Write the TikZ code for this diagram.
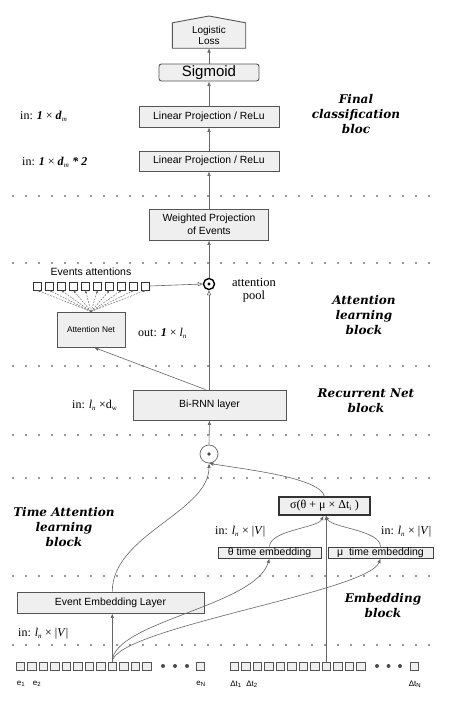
\documentclass[tikz,border=0pt]{standalone}
\usepackage{fontspec}
\setmainfont{Liberation Serif}
\newfontfamily\sansf{Liberation Sans}
\newfontfamily\blockf{DejaVu Serif}
\usetikzlibrary{arrows.meta}
\definecolor{ln}{HTML}{666666}
\definecolor{bx}{HTML}{EFEFEF}
\definecolor{bd}{HTML}{555555}
\begin{document}
\begin{tikzpicture}[x=1pt,y=-1pt,
  box/.style={draw=bd, fill=bx, line width=0.9pt, inner sep=0pt, align=center,
    font=\sansf\fontsize{10.4}{12.5}\selectfont},
  tbox/.style={box, draw=black!80, line width=1.2pt},
  arr/.style={draw=ln, line width=0.6pt, -{Latex[length=4.5pt,width=3.6pt]}},
  oarr/.style={draw=ln, line width=0.6pt, -{Triangle[open,length=5pt,width=4.2pt]}},
  dashar/.style={draw=ln, line width=0.45pt, dash pattern=on 1.8pt off 1.2pt, -{Latex[length=2.5pt,width=2.2pt]}},
  dotline/.style={draw=black!80, line width=1.8pt, dash pattern=on 0pt off 13pt, line cap=round},
  blk/.style={font=\blockf\bfseries\itshape\fontsize{12}{15}\selectfont, align=center},
  lbl/.style={font=\fontsize{12}{14}\selectfont, anchor=west, inner sep=0pt},
  sq/.style={draw=bd, fill=bx, line width=0.5pt, minimum size=8.5pt, inner sep=0pt},
  asq/.style={draw=black!80, fill=white, line width=0.8pt, minimum size=8pt, inner sep=0pt},
  bigdot/.style={circle, fill=black!70, inner sep=0pt, minimum size=4pt},
  sml/.style={font=\sansf\fontsize{8}{9}\selectfont, inner sep=0pt}
]
\path[use as bounding box, fill=white] (0,0) rectangle (450,702);

% dotted separators
\foreach \yy in {196,263,366,435,478,576,645}
  \draw[dotline] (13,\yy) -- (440,\yy);

% final classification
\node[minimum width=73pt, minimum height=25pt, inner sep=0pt] (loss) at (209,35.5) {};
\draw[draw=bd, fill=bx, line width=0.9pt] (loss.south west) -- (loss.north west) -- (209,16) -- (loss.north east) -- (loss.south east) -- cycle;
\node[align=center, font=\sansf\fontsize{10}{11.5}\selectfont] (losst) at (209,35.5) {Logistic\\Loss};
\node[box, rounded corners=2.5pt, minimum width=100pt, minimum height=17pt, font=\sansf\fontsize{15}{16}\selectfont] (sig) at (209,72.5) {Sigmoid};
\node[box, minimum width=140pt, minimum height=21pt] (lp1) at (209,116.5) {Linear Projection / ReLu};
\node[box, minimum width=140pt, minimum height=20pt] (lp2) at (209,161) {Linear Projection / ReLu};
\draw[arr] (sig.north) -- (loss.south);
\draw[arr] (lp1.north) -- (sig.south);
\draw[arr] (lp2.north) -- (lp1.south);

\node[lbl] (inA) at (20,116) {in: \textbf{\textit{1}} × \textbf{\textit{d}}\textsubscript{\scriptsize\textit{m}}};
\node[lbl] (inB) at (22,162) {in: \textbf{\textit{1}} × \textbf{\textit{d}}\textsubscript{\scriptsize\textit{m}} \textbf{\textit{* 2}}};
\node[blk] (fcb) at (356,114) {Final\\classification\\bloc};

% weighted projection
\node[box, minimum width=119pt, minimum height=31pt] (wp) at (209,224.5) {Weighted Projection\\of Events};
\draw[arr] (wp.north) -- (lp2.south);

% attention block
\node[font=\sansf\fontsize{10.5}{12}\selectfont] (evat) at (91,272) {Events attentions};
\foreach \i in {0,...,9}
  \node[asq] (a\i) at (37.5+12*\i,286) {};
\node[circle, draw=black, line width=1.4pt, minimum size=11pt, inner sep=0pt] (odA) at (209,284) {};
\fill[black] (odA.center) circle (1.6pt);
\node[align=center, font=\fontsize{12.5}{13}\selectfont] (apool) at (254,290) {attention\\pool};
\node[box, minimum width=68pt, minimum height=35pt, font=\sansf\fontsize{8.3}{10}\selectfont] (attnet) at (91,329.5) {Attention Net};
\node[lbl] (outl) at (138,333) {out: \textbf{\textit{1}} × \textit{l}\textsubscript{\scriptsize\textit{n}}};
\node[blk] (alb) at (364,315) {Attention\\learning\\block};
\foreach \i in {0,...,9}
  \draw[dashar] (attnet.north) -- (a\i.south);
\draw[oarr] (a9.east) -- (odA.west);
\draw[arr] (odA.north) -- (wp.south);

% recurrent
\node[box, minimum width=153pt, minimum height=30pt] (birnn) at (209.5,405) {Bi-RNN layer};
\draw[oarr] (birnn.north -| odA) -- (odA.south);
\draw[arr] ([xshift=-4pt]birnn.north) -- ([xshift=3pt]attnet.south);
\node[lbl] (inC) at (72,405) {in: \textit{l}\textsubscript{\scriptsize\textit{n}} ×d\textsubscript{\scriptsize w}};
\node[blk] (rnb) at (366,400.5) {Recurrent Net\\block};

\node[circle, draw=ln, line width=0.7pt, minimum size=18pt, inner sep=0pt] (odB) at (209,454) {};
\fill[black!70] (odB.center) circle (1.8pt);
\draw[arr] (odB.north) -- (birnn.south);

% time attention
\node[tbox, minimum width=91pt, minimum height=18pt, font=\fontsize{12}{13}\selectfont] (sigma) at (324.5,506) {σ(θ + μ × Δt\textsubscript{\scriptsize i} )};
\node[tbox, draw=black!75, line width=1pt, minimum width=103pt, minimum height=11pt, text height=7.5pt, text depth=1.5pt, font=\sansf\fontsize{10.5}{11}\selectfont] (theta) at (269.5,552.5) {θ time embedding};
\node[tbox, draw=black!75, line width=1pt, minimum width=105pt, minimum height=11pt, text height=7.5pt, text depth=1.5pt, font=\sansf\fontsize{10.5}{11}\selectfont] (mu) at (380.5,552.5) {μ~~time embedding};
\node[lbl] (inD) at (215,532) {in: \textit{l}\textsubscript{\scriptsize\textit{n}} × |\textit{V}|};
\node[lbl] (inE) at (381,532) {in: \textit{l}\textsubscript{\scriptsize\textit{n}} × |\textit{V}|};
\node[blk] (tab) at (64,527) {Time Attention\\learning\\block};

% embedding
\node[box, minimum width=187pt, minimum height=21pt] (eel) at (110.5,602.5) {Event Embedding Layer};
\node[lbl] (inF) at (18,634) {in: \textit{l}\textsubscript{\scriptsize\textit{n}} × |\textit{V}|};
\node[blk] (emb) at (383,606) {Embedding\\block};

% input squares
\foreach \i in {0,...,11}
  \node[sq] (e\i) at (20.3+11.5*\i,666) {};
\node[sq] (eN) at (200,666) {};
\foreach \i in {0,...,11}
  \node[sq] (t\i) at (234.3+11.5*\i,666) {};
\node[sq] (tN) at (414,666) {};
\foreach \xx/\nm in {163/da,175/db,187/dc,377/dd,388.5/de,400/df}
  \node[bigdot] (\nm) at (\xx,666) {};
\node[sml] (le1) at (21,684) {e\textsubscript{1}};
\node[sml] (le2) at (37,684) {e\textsubscript{2}};
\node[sml] (leN) at (201,684) {e\textsubscript{N}};
\node[sml] (lt1) at (236,684) {Δt\textsubscript{1}};
\node[sml] (lt2) at (252,684) {Δt\textsubscript{2}};
\node[sml] (ltN) at (415,684) {Δt\textsubscript{N}};

% connectors
\draw[arr] (e8.north) -- (eel.south -| e8);
\draw[arr] (e8.north) .. controls (113,622) and (255,606) .. (theta.south);
\draw[arr] (e8.north) .. controls (116,628) and (368,592) .. (mu.south);
\draw[arr] (t8.north) -- (sigma.south -| t8);
\draw[arr] (theta.north) .. controls (270,530) and (318,528) .. ([xshift=-1pt]sigma.south);
\draw[arr] (mu.north) .. controls (380,530) and (332,528) .. ([xshift=1pt]sigma.south);
\draw[arr] (eel.north -| e8) .. controls (112,535) and (209,512) .. (odB.south);
\draw[arr] (sigma.north) .. controls (320,478) and (250,470) .. (odB.south);
\end{tikzpicture}
\end{document}
